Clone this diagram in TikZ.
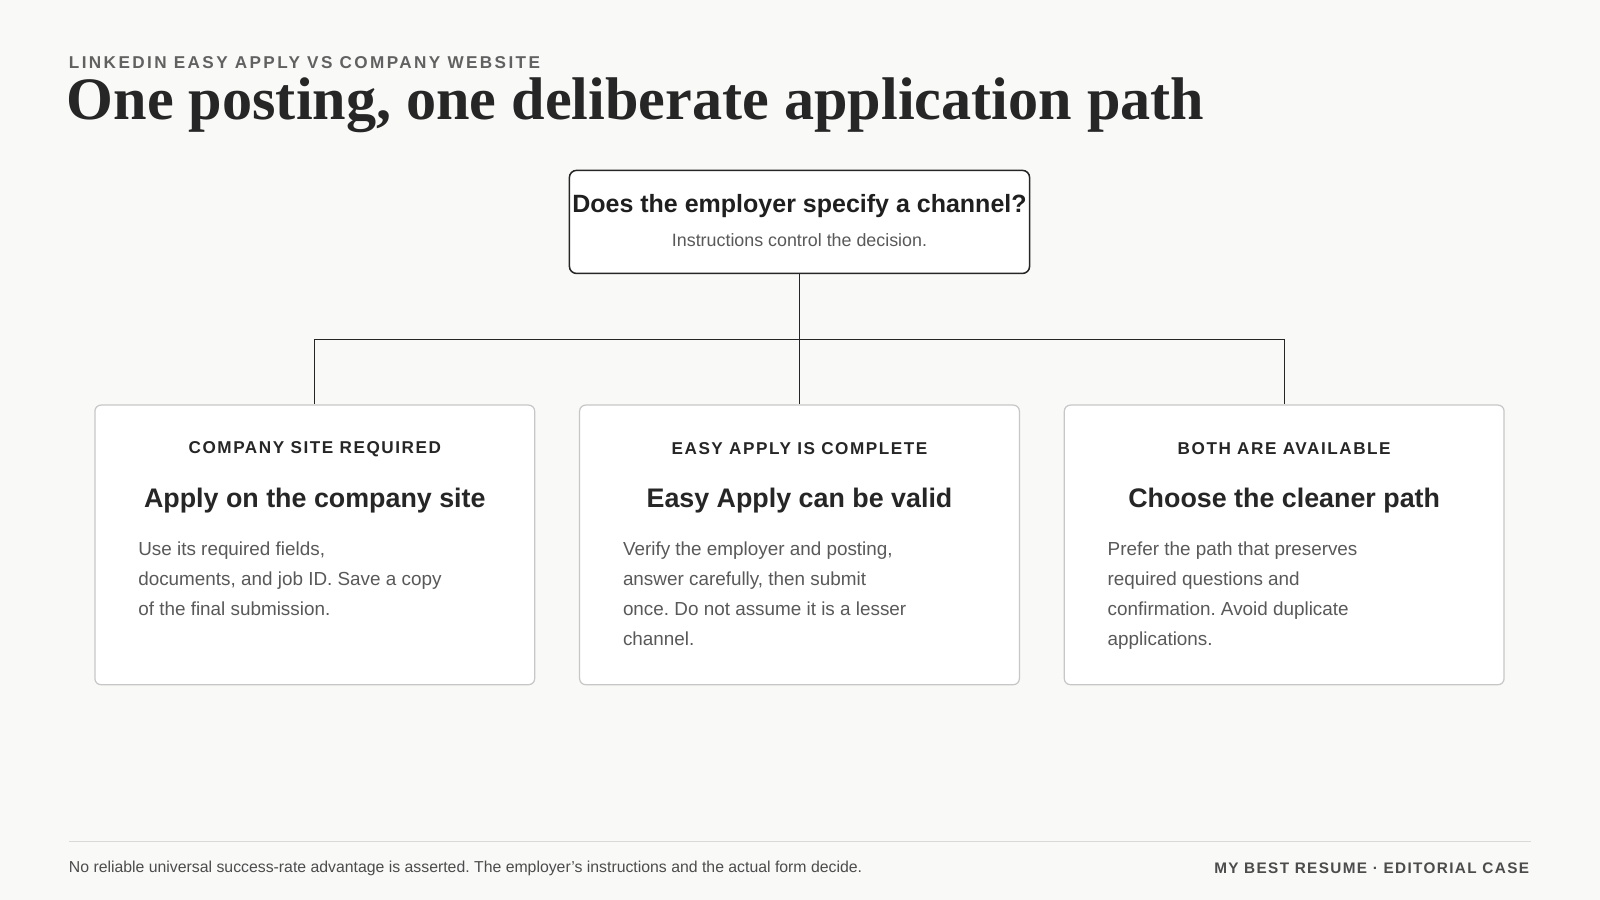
\documentclass[tikz,border=0pt]{standalone}
\usepackage{fontspec}
\setmainfont{Liberation Sans}
\newfontfamily\titlefont{Liberation Serif}
\newfontfamily\spaced{Liberation Sans}[LetterSpace=14]
\newfontfamily\spacedb{Liberation Sans}[LetterSpace=9]
\begin{document}
\frenchspacing
\begin{tikzpicture}[x=1pt,y=-1pt,
  card/.style={draw=black!22,line width=1.2pt,rounded corners=6pt,fill=white},
  lbl/.style={anchor=center,font=\spacedb\bfseries\fontsize{16.8}{19}\selectfont,text=black!85},
  head/.style={anchor=center,font=\fontsize{26.3}{30}\selectfont\bfseries,text=black!85},
  body/.style={anchor=north west,align=left,font=\fontsize{18.5}{29.5}\selectfont,text=black!65},
  conn/.style={draw=black!85,line width=1.3pt}]
\fill[fill={rgb,255:red,249;green,249;blue,247}] (0,0) rectangle (1568,882);
\useasboundingbox (0,0) rectangle (1568,882);
\node[anchor=west,font=\spaced\bfseries\fontsize{16.8}{19}\selectfont,text=black!62] (kick) at (64,61) {LINKEDIN EASY APPLY VS COMPANY WEBSITE};
\node[anchor=west,font=\titlefont\bfseries\fontsize{59}{66}\selectfont,text=black!85] (title) at (62,103) {One posting, one deliberate application path};
\node[draw=black!85,line width=1.5pt,rounded corners=7pt,fill=white,minimum width=451pt,minimum height=101pt] (top) at (783.5,217.5) {};
\node[anchor=center,font=\bfseries\fontsize{24.5}{28}\selectfont,text=black!88] (q) at (783.5,202) {Does the employer specify a channel?};
\node[anchor=center,font=\fontsize{17.5}{20}\selectfont,text=black!65] (qs) at (783.5,235) {Instructions control the decision.};
\node[card,minimum width=431pt,minimum height=274pt] (c1) at (308.5,534) {};
\node[card,minimum width=431pt,minimum height=274pt] (c2) at (783.5,534) {};
\node[card,minimum width=431pt,minimum height=274pt] (c3) at (1258.5,534) {};
\coordinate (j) at (783.5,333);
\draw[conn] (top.south) -- (j);
\draw[conn] (j) -| (c1.north);
\draw[conn] (j) -- (c2.north);
\draw[conn] (j) -| (c3.north);
\node[lbl] (l1) at (308.5,440) {COMPANY SITE REQUIRED};
\node[lbl] (l2) at (783.5,440) {EASY APPLY IS COMPLETE};
\node[lbl] (l3) at (1258.5,440) {BOTH ARE AVAILABLE};
\node[head] (h1) at (308.5,491) {Apply on the company site};
\node[head] (h2) at (783.5,491) {Easy Apply can be valid};
\node[head] (h3) at (1258.5,491) {Choose the cleaner path};
\node[body] (b1) at (132,527) {Use its required fields,\\documents, and job ID. Save a copy\\of the final submission.};
\node[body] (b2) at (607,527) {Verify the employer and posting,\\answer carefully, then submit\\once. Do not assume it is a lesser\\channel.};
\node[body] (b3) at (1082,527) {Prefer the path that preserves\\required questions and\\confirmation. Avoid duplicate\\applications.};
\draw[draw=black!15,line width=1pt] (68,825) -- (1500,825);
\node[anchor=west,font=\fontsize{15.5}{18}\selectfont,text=black!70] (f1) at (64,851) {No reliable universal success-rate advantage is asserted. The employer's instructions and the actual form decide.};
\node[anchor=east,font=\spacedb\bfseries\fontsize{15}{18}\selectfont,text=black!70] (f2) at (1502,851) {MY BEST RESUME · EDITORIAL CASE};
\end{tikzpicture}
\end{document}
